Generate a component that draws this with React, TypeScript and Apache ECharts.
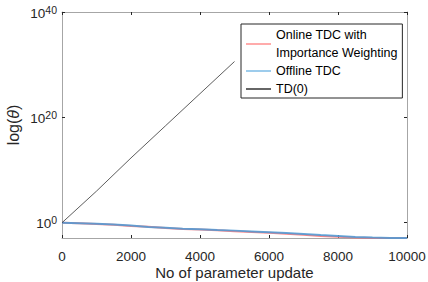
import React, { useEffect, useRef } from "react";
import * as echarts from "echarts";

// x positions (number of parameter updates)
const xValues = [0, 500, 1000, 1500, 2000, 2500, 3000, 3500, 4000, 4500, 5000, 5500, 6000, 6500, 7000, 7500, 8000, 8500, 9000, 9500, 10000];
// log10(theta)
const onlineTdcExp = [0, -0.1, -0.25, -0.4, -0.6, -0.78, -1.0, -1.2, -1.3, -1.45, -1.6, -1.75, -1.9, -2.1, -2.3, -2.5, -2.65, -2.8, -2.88, -2.9, -2.9];
const offlineTdcExp = [0, -0.08, -0.2, -0.35, -0.55, -0.8, -0.95, -1.15, -1.25, -1.4, -1.5, -1.65, -1.8, -1.95, -2.15, -2.35, -2.5, -2.7, -2.8, -2.88, -2.9];
const td0X = [0, 1000, 2000, 3000, 4000, 5000];
const td0Exp = [0, 6.0, 12.3, 18.4, 24.5, 30.6];

const yTickExps = [0, 20, 40];

const seriesNames = ["Online TDC with\nImportance Weighting", "Offline TDC", "TD(0)"];

const FONT = "'Liberation Sans', Arial, Helvetica, sans-serif";
const AXIS_COLOR = "#a6a6a6";
const TEXT_COLOR = "#262626";

export default function App() {
  const ref = useRef<HTMLDivElement>(null);
  useEffect(() => {
    if (!ref.current) return;
    const chart = echarts.init(ref.current, null, { renderer: "svg" });
    const grid = { left: 62, right: 21, top: 12, bottom: 44, containLabel: false, outerBoundsMode: "none" };
    const yMin = -2.9;
    const yMax = 40;
    const xAxisCommon = {
      type: "value" as const,
      min: 0,
      max: 10000,
      interval: 2000,
      splitLine: { show: false },
      axisLine: { show: true, onZero: false, lineStyle: { color: AXIS_COLOR, width: 1 } },
      axisTick: { show: true, inside: true, length: 3, lineStyle: { color: TEXT_COLOR } },
    };
    const yAxisCommon = {
      type: "value" as const,
      min: yMin,
      max: yMax,
      splitLine: { show: false },
      axisLine: { show: true, onZero: false, lineStyle: { color: AXIS_COLOR, width: 1 } },
      axisTick: { show: true, inside: true, length: 3, customValues: yTickExps, lineStyle: { color: TEXT_COLOR } },
    };
    chart.setOption({
      animation: false,
      backgroundColor: "#fff",
      textStyle: { fontFamily: FONT },
      grid,
      legend: {
        orient: "vertical",
        left: 241,
        top: 24,
        padding: [2, 5, 0, 5],
        itemGap: 0,
        itemWidth: 25,
        itemHeight: 1.5,
        icon: "rect",
        borderColor: "#262626",
        borderWidth: 1,
        backgroundColor: "#fff",
        textStyle: { fontSize: 12.5, lineHeight: 18, color: "#000", fontFamily: FONT },
        data: seriesNames,
      },
      xAxis: [
        {
          ...xAxisCommon,
          position: "bottom",
          name: "No of parameter update",
          nameLocation: "middle",
          nameGap: 27,
          nameMoveOverlap: false,
          nameTextStyle: { fontSize: 15, color: TEXT_COLOR, fontFamily: FONT },
          axisLabel: {
            show: true,
            margin: 11,
            fontSize: 13.5,
            color: TEXT_COLOR,
            fontFamily: FONT,
            formatter: (v: number) => String(v),
            showMinLabel: true,
            showMaxLabel: true,
          },
        },
        {
          ...xAxisCommon,
          position: "top",
          axisLabel: { show: false },
        },
      ],
      yAxis: [
        {
          ...yAxisCommon,
          position: "left",
          name: "log({i|θ})",
          nameLocation: "middle",
          nameGap: 41,
          nameMoveOverlap: false,
          nameTextStyle: {
            fontSize: 16,
            color: TEXT_COLOR,
            fontFamily: FONT,
            rich: { i: { fontSize: 16, fontStyle: "italic", color: TEXT_COLOR, fontFamily: FONT } },
          },
          axisLabel: {
            show: true,
            margin: 5,
            hideOverlap: false,
            customValues: yTickExps,
            formatter: (v: number) => `{b|10}{s|${Math.round(v)}}`,
            rich: {
              b: { fontSize: 13.5, lineHeight: 16, verticalAlign: "bottom", color: TEXT_COLOR, fontFamily: FONT },
              s: { fontSize: 10.5, lineHeight: 16, verticalAlign: "top", color: TEXT_COLOR, fontFamily: FONT },
            },
          },
        },
        {
          ...yAxisCommon,
          position: "right",
          axisLabel: { show: false },
        },
      ],
      series: [
        {
          name: seriesNames[0],
          type: "line",
          symbol: "none",
          data: xValues.map((x, i) => [x, onlineTdcExp[i]]),
          lineStyle: { color: "#ff7070", width: 2, opacity: 0.85 },
          itemStyle: { color: "#ff8f8f" },
        },
        {
          name: seriesNames[1],
          type: "line",
          symbol: "none",
          data: xValues.map((x, i) => [x, offlineTdcExp[i]]),
          lineStyle: { color: "#4a9ad6", width: 2, opacity: 0.85 },
          itemStyle: { color: "#7dbbe6" },
        },
        {
          name: seriesNames[2],
          type: "line",
          symbol: "none",
          data: td0X.map((x, i) => [x, td0Exp[i]]),
          lineStyle: { color: "#333", width: 0.8 },
          itemStyle: { color: "#333" },
        },
      ],
    });
    return () => chart.dispose();
  }, []);
  return (
    <div
      ref={ref}
      style={{ position: "fixed", left: 0, top: 0, width: 428, height: 282 }}
    />
  );
}
